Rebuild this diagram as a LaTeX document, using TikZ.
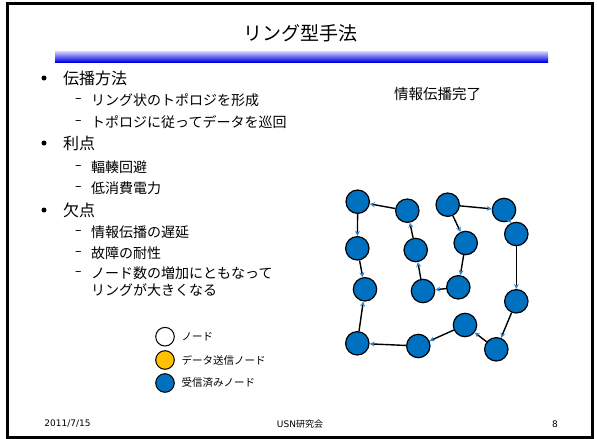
\documentclass[tikz,border=0pt]{standalone}
\usepackage{fontspec}
\setmainfont{Noto Sans CJK JP}
\newfontfamily\footfont{DejaVu Sans}
\usetikzlibrary{arrows.meta}
\definecolor{nodeblue}{HTML}{0070C0}
\definecolor{nodeorange}{HTML}{FFC000}
\definecolor{tipblue}{HTML}{2E86D6}
\tikzset{
  ringnode/.style={circle, draw=black, line width=1.2pt, fill=nodeblue, minimum size=23.4pt, inner sep=0pt},
  legnode/.style={circle, draw=black, line width=1pt, minimum size=18.6pt, inner sep=0pt},
  legtext/.style={anchor=west, inner sep=0pt, font=\fontsize{10.5}{12}\selectfont},
  flow/.style={line width=1.4pt, draw=black, -{Stealth[length=5pt,width=5pt,color=tipblue]}},
  lvone/.style={anchor=west, inner sep=0pt, font=\fontsize{16}{18}\selectfont},
  lvtwo/.style={anchor=west, inner sep=0pt, font=\fontsize{14}{16}\selectfont},
  bulletdot/.style={circle, fill=black, inner sep=0pt, minimum size=5pt},
  dashmark/.style={anchor=west, inner sep=0pt, font=\footfont\fontsize{13}{15}\selectfont},
  foot/.style={inner sep=0pt, font=\fontsize{9}{10}\selectfont}
}
\begin{document}
\begin{tikzpicture}[x=1pt,y=-1pt]
\useasboundingbox (0,0) rectangle (597,439);
\fill[white] (0,0) rectangle (597,439);
% frame
\draw[line width=3pt] (7.5,3.5) rectangle (592,437.5);
% title
\node[inner sep=0pt, font=\fontsize{19}{22}\selectfont] (title) at (300,33) {リング型手法};
\shade[top color={rgb,255:red,215;green,215;blue,255}, bottom color={rgb,255:red,0;green,0;blue,225}] (55,51) rectangle (548,62);
% bullets
\node[bulletdot] (b1d) at (44,78) {};
\node[lvone] (b1) at (63,78) {伝播方法};
\node[dashmark] (s1d) at (75,100) {–};
\node[lvtwo] (s1) at (91,100) {リング状のトポロジを形成};
\node[dashmark] (s2d) at (75,122) {–};
\node[lvtwo] (s2) at (91,122) {トポロジに従ってデータを巡回};
\node[bulletdot] (b2d) at (44,143) {};
\node[lvone] (b2) at (63,143) {利点};
\node[dashmark] (s3d) at (75,167) {–};
\node[lvtwo] (s3) at (91,167) {輻輳回避};
\node[dashmark] (s4d) at (75,188) {–};
\node[lvtwo] (s4) at (91,188) {低消費電力};
\node[bulletdot] (b3d) at (44,210) {};
\node[lvone] (b3) at (63,210) {欠点};
\node[dashmark] (s5d) at (75,232) {–};
\node[lvtwo] (s5) at (91,232) {情報伝播の遅延};
\node[dashmark] (s6d) at (75,253) {–};
\node[lvtwo] (s6) at (91,253) {故障の耐性};
\node[dashmark] (s7d) at (75,273) {–};
\node[lvtwo] (s7) at (91,273) {ノード数の増加にともなって};
\node[lvtwo] (s7b) at (91,290) {リングが大きくなる};
% status
\node[inner sep=0pt, font=\fontsize{14.5}{16}\selectfont] (status) at (437.5,94) {情報伝播完了};
% legend
\node[legnode, fill=white] (lw) at (165,336.7) {};
\node[legtext] (lwt) at (181.5,336.7) {ノード};
\node[legnode, fill=nodeorange] (lo) at (165,360) {};
\node[legtext] (lot) at (181.5,360) {データ送信ノード};
\node[legnode, fill=nodeblue] (lb) at (165,383) {};
\node[legtext] (lbt) at (181.5,383) {受信済みノード};
% ring nodes
\node[ringnode] (A) at (357.7,201.7) {};
\node[ringnode] (B) at (407.3,210.7) {};
\node[ringnode] (C) at (447.7,204.7) {};
\node[ringnode] (D) at (504,210) {};
\node[ringnode] (E) at (516.3,234) {};
\node[ringnode] (F) at (357.3,248.3) {};
\node[ringnode] (G) at (415.7,250) {};
\node[ringnode] (H) at (465.7,243) {};
\node[ringnode] (I) at (365,289.3) {};
\node[ringnode] (J) at (423,291) {};
\node[ringnode] (K) at (458.3,287.3) {};
\node[ringnode] (L) at (516.3,301.3) {};
\node[ringnode] (M) at (465,325) {};
\node[ringnode] (N) at (357.3,343.3) {};
\node[ringnode] (O) at (418.3,346) {};
\node[ringnode] (P) at (496.3,349.3) {};
% connectors
\draw[flow] (C) -- (H);
\draw[flow] (H) -- (K);
\draw[flow] (K) -- (J);
\draw[flow] (J) -- (G);
\draw[flow] (G) -- (B);
\draw[flow] (B) -- (A);
\draw[flow] (A) -- (F);
\draw[flow] (F) -- (I);
\draw[flow] (C) -- (D);
\draw[flow] (D) -- (E);
\draw[flow] (E) -- (L);
\draw[flow] (L) -- (P);
\draw[flow] (P) -- (M);
\draw[flow] (M) -- (O);
\draw[flow] (O) -- (N);
\draw[flow] (N) -- (I);
% footer
\node[foot] (date) at (67.5,424) {\footfont 2011/7/15};
\node[foot] (org) at (300,424) {{\footfont USN}研究会};
\node[foot] (page) at (555,424) {\footfont 8};
\end{tikzpicture}
\end{document}
